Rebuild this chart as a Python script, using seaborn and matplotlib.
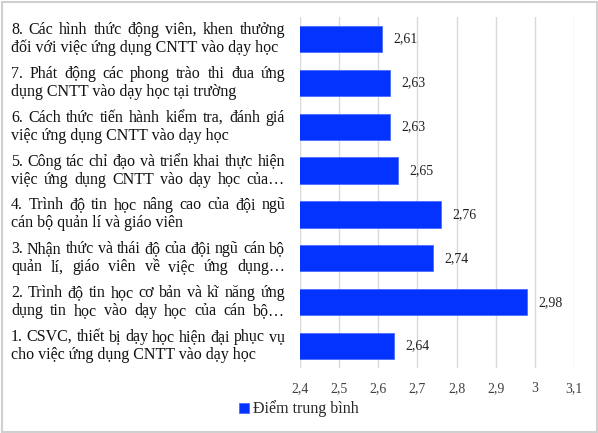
import matplotlib
matplotlib.use("Agg")
import matplotlib.pyplot as plt
import seaborn as sns
from matplotlib.patches import Rectangle
from matplotlib.ticker import FuncFormatter

# Data (top to bottom as shown in the chart)
categories = [
    "8. Các hình thức động viên, khen thưởng\nđối với việc ứng dụng CNTT vào dạy học",
    "7. Phát động các phong trào thi đua ứng\ndụng CNTT vào dạy học tại trường",
    "6. Cách thức tiến hành kiểm tra, đánh giá\nviệc ứng dụng CNTT vào dạy học",
    "5. Công tác chỉ đạo và triển khai thực hiện\nviệc ứng dụng CNTT vào dạy học của…",
    "4. Trình độ tin học nâng cao của đội ngũ\ncán bộ quản lí và giáo viên",
    "3. Nhận thức và thái độ của đội ngũ cán bộ\nquản lí, giáo viên về việc ứng dụng…",
    "2. Trình độ tin học cơ bản và kĩ năng ứng\ndụng tin học vào dạy học của cán bộ…",
    "1. CSVC, thiết bị dạy học hiện đại phục vụ\ncho việc ứng dụng CNTT vào dạy học",
]
scores = [2.61, 2.63, 2.63, 2.65, 2.76, 2.74, 2.98, 2.64]
x_ticks = [2.4, 2.5, 2.6, 2.7, 2.8, 2.9, 3.0, 3.1]
series_name = "Điểm trung bình"

BAR_COLOR = "#0433ff"
FONT = "Liberation Serif"

W, H = 598, 433
sns.set_theme(style="white")
plt.rcParams["font.family"] = [FONT, "DejaVu Serif"]

fig = plt.figure(figsize=(W / 100, H / 100), dpi=100)
ax = fig.add_axes([300 / W, 1 - 368 / H, 274 / W, 351 / H])

sns.barplot(x=scores, y=list(range(len(scores))), orient="h", color=BAR_COLOR,
            width=0.6, saturation=1, label=series_name, ax=ax,
            edgecolor="#4a6bff", linewidth=0.6)
if ax.get_legend() is not None:
    ax.get_legend().remove()

ax.set_xlim(x_ticks[0], x_ticks[-1])
ax.set_xticks(x_ticks)
ax.xaxis.set_major_formatter(FuncFormatter(lambda v, p: f"{v:g}".replace(".", ",")))
ax.tick_params(axis="x", length=0, pad=10, labelsize=10, labelcolor="#404040")
ax.set_yticks([])
ax.set_ylabel("")
ax.grid(axis="x", color="#d9d9d9", linewidth=1)
ax.set_axisbelow(True)
for s in ax.spines.values():
    s.set_visible(False)

ax.bar_label(ax.containers[0],
             labels=[f"{v:.2f}".replace(".", ",") for v in scores],
             padding=8, fontsize=10, color="#222222")

# Justified category labels to the left of the plot
renderer = fig.canvas.get_renderer()
inv = fig.transFigure.inverted()
LEFT, RIGHT = 11, 285
LINE_GAP = 18
LABEL_SIZE = 11.5


def px_to_fig(px, py_disp):
    return inv.transform((px, py_disp))


for i, label in enumerate(categories):
    yc = ax.transData.transform((x_ticks[0], i))[1]
    lines = label.split("\n")
    n = len(lines)
    for j, line in enumerate(lines):
        ydisp = yc + ((n - 1) / 2 - j) * LINE_GAP
        justify = j < n - 1 or line.endswith("…")
        if not justify:
            fx, fy = px_to_fig(LEFT, ydisp)
            fig.text(fx, fy, line, ha="left", va="center", fontsize=LABEL_SIZE, color="#111111")
            continue
        words = line.split(" ")
        texts = [fig.text(0, 0, w, ha="left", va="center", fontsize=LABEL_SIZE, color="#111111")
                 for w in words]
        widths = [t.get_window_extent(renderer).width for t in texts]
        gap = (RIGHT - LEFT - sum(widths)) / max(len(words) - 1, 1)
        x = LEFT
        for t, w in zip(texts, widths):
            t.set_position(px_to_fig(x, ydisp))
            x += w + gap

# Legend at the bottom
handles, labels = ax.get_legend_handles_labels()
fig.legend(handles, labels, loc="center", bbox_to_anchor=(0.5, 1 - 409 / H),
           frameon=False, fontsize=11.5, handlelength=0.6, handleheight=0.6,
           handletextpad=0.3, borderpad=0)

# Chart border
fig.patches.append(Rectangle((1.5 / W, 1.5 / H), 1 - 3 / W, 1 - 3 / H,
                             transform=fig.transFigure, fill=False,
                             edgecolor="#d0d0d0", linewidth=1.5))

fig.savefig("out.png", dpi=100)
